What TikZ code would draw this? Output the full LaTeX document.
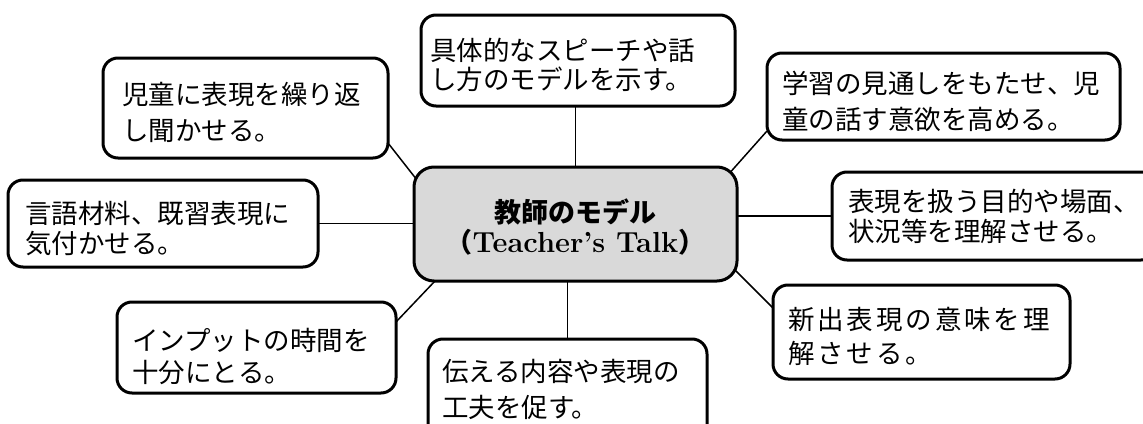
\documentclass[tikz,border=0pt]{standalone}
\usepackage{fontspec}
\newfontfamily\jp{Noto Sans CJK JP}
\newcommand\dn{\rule{0pt}{32pt}}
\newcommand\cw[1]{\makebox[29.4pt][l]{#1}}
\usetikzlibrary{backgrounds,calc}
\begin{document}
\begin{tikzpicture}[x=1pt,y=-1pt,
  box/.style={draw=black, line width=3pt, rounded corners=15pt, fill=white,
    align=left, inner ysep=0pt, outer sep=0pt, anchor=center},
  hub/.style={draw=black, line width=3pt, rounded corners=20pt, fill=black!15,
    align=center, outer sep=0pt, anchor=center},
  link/.style={line width=1.5pt}]
\useasboundingbox (0,0) rectangle (1143,423);

\node[hub, minimum width=323pt, minimum height=114pt,
  font=\fontsize{27}{30}\selectfont] (C) at (575.5,224)
  {\rule{0pt}{30pt}{\jp\bfseries 教師のモデル}\\{\jp\bfseries （}{\fontsize{29}{30}\selectfont\bfseries Teacher’s Talk}{\jp\bfseries ）}};

\node[box, minimum width=314pt, minimum height=91pt, text width=296pt, inner xsep=9pt,
  font=\jp\fontsize{26.5}{29}\selectfont] (top) at (578,60.5)
  {\dn 具体的なスピーチや話\\し方のモデルを示す。};
\node[box, minimum width=285pt, minimum height=100pt, text width=247pt, inner xsep=19pt,
  font=\jp\fontsize{26.5}{36}\selectfont] (TL) at (245.5,108)
  {\dn 児童に表現を繰り返\\し聞かせる。};
\node[box, minimum width=353pt, minimum height=87pt, text width=323pt, inner xsep=15pt,
  font=\jp\fontsize{26.5}{36}\selectfont] (UR) at (943.5,96.5)
  {\dn 学習の見通しをもたせ、児\\童の話す意欲を高める。};
\node[box, minimum width=310pt, minimum height=87pt, text width=276pt, inner xsep=17pt,
  font=\jp\fontsize{26.5}{30}\selectfont] (L) at (163,223.5)
  {\dn 言語材料、既習表現に\\気付かせる。};
\node[box, minimum width=324pt, minimum height=88pt, text width=292pt, inner xsep=16pt,
  font=\jp\fontsize{26.5}{30}\selectfont] (R) at (994,216)
  {表現を扱う目的や場面、\\状況等を理解させる。};
\node[box, minimum width=279pt, minimum height=91pt, text width=249pt, inner xsep=15pt,
  font=\jp\fontsize{26.5}{32}\selectfont] (BL) at (256.5,347.5)
  {\rule{0pt}{40pt}インプットの時間を\\十分にとる。};
\node[box, minimum width=279pt, minimum height=101pt, text width=251pt, inner xsep=14pt,
  font=\jp\fontsize{26.5}{36}\selectfont] (B) at (567.5,389.5)
  {伝える内容や表現の\\工夫を促す。};
\node[box, minimum width=297pt, minimum height=94pt, text width=267pt, inner xsep=15pt,
  font=\jp\fontsize{26.5}{34}\selectfont] (BR) at (921.5,332)
  {\dn\cw{新}\cw{出}\cw{表}\cw{現}\cw{の}\cw{意}\cw{味}\cw{を}理\\\cw{解}\cw{さ}\cw{せ}\cw{る}。};

\begin{pgfonlayer}{background}
  \fill[white] (0,0) rectangle (1143,423);
  \draw[link] (C.north) -- (C.north |- top.south);
  \draw[link] (B.north |- C.south) -- (B.north);
  \draw[link] (L.east) -- (L.east -| C.west);
  \draw[link] (R.west -| C.east) -- (R.west);
  \draw[link] ($(TL.south east)+(0,-15)$) -- ($(C.north west)+(3,13)$);
  \draw[link] ($(C.north east)+(-10,9)$) -- ($(UR.south west)+(0,-9)$);
  \draw[link] ($(BL.north east)+(0,20)$) -- ($(C.south west)+(21,0)$);
  \draw[link] ($(C.south east)+(-2,-11)$) -- ($(BR.north west)+(0,23)$);
\end{pgfonlayer}
\end{tikzpicture}
\end{document}
